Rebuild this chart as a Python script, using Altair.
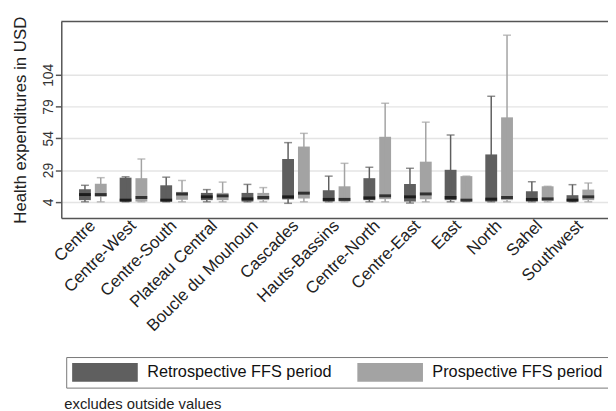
import altair as alt
import pandas as pd

FONT = "Liberation Sans"
DARK = "#5f5f5f"
LIGHT = "#a3a3a3"

regions = ["Centre", "Centre-West", "Centre-South", "Plateau Central", "Boucle du Mouhoun",
           "Cascades", "Hauts-Bassins", "Centre-North", "Centre-East", "East", "North",
           "Sahel", "Southwest"]
periods = ["Retrospective FFS period", "Prospective FFS period"]

# Retrospective FFS period (dark boxes)
retro_lo = [4, 4, 4, 4, 4, 2.8, 4, 4, 3, 4, 4, 4, 4]
retro_q1 = [5.3, 4.2, 4.2, 5.3, 4.2, 5.9, 4.2, 5.3, 4.2, 5.3, 4.2, 4.2, 4.2]
retro_med = [9.7, 5.3, 5.3, 7.9, 6.3, 7.9, 5.9, 7.1, 7.9, 7.4, 6.1, 5.9, 5.3]
retro_q3 = [13.9, 23.0, 17.0, 11.0, 11.0, 37.7, 13.1, 22.6, 18.0, 29.2, 41.3, 12.3, 9.2]
retro_hi = [17.0, 23.7, 23.4, 13.6, 17.7, 50.6, 24.2, 31.2, 30.4, 56.6, 87.1, 19.8, 17.5]

# Prospective FFS period (light boxes)
prosp_lo = [4, 4, 4, 4, 4, 4, 4, 4, 4, 4, 4, 4, 4]
prosp_q1 = [7.9, 4.2, 5.6, 5.3, 5.3, 6.6, 4.2, 6.1, 6.0, 4.2, 5.3, 4.6, 5.3]
prosp_med = [9.7, 7.4, 10.2, 8.7, 7.4, 10.8, 5.9, 8.7, 10.2, 5.3, 7.4, 6.3, 7.9]
prosp_q3 = [18.3, 22.6, 11.8, 11.0, 11.0, 47.5, 16.2, 55.2, 35.6, 24.2, 70.5, 16.2, 13.6]
prosp_hi = [23.0, 37.7, 20.8, 19.5, 15.2, 57.9, 34.3, 81.6, 66.7, 24.2, 135.2, 16.2, 18.8]

y_ticks = [4, 29, 54, 79, 104]
y_domain = [-8.67, 145.96]
note = "excludes outside values"
y_title = "Health expenditures in USD"

rows = []
for i, r in enumerate(regions):
    rows.append(dict(region=r, period=periods[0], lo=retro_lo[i], q1=retro_q1[i],
                     med=retro_med[i], q3=retro_q3[i], hi=retro_hi[i]))
    rows.append(dict(region=r, period=periods[1], lo=prosp_lo[i], q1=prosp_q1[i],
                     med=prosp_med[i], q3=prosp_q3[i], hi=prosp_hi[i]))
df = pd.DataFrame(rows)

x_enc = alt.X(
    "region:N", sort=regions,
    scale=alt.Scale(range=[0, 558], paddingInner=0, paddingOuter=0.277),
    axis=alt.Axis(title=None, labelAngle=315, labelAlign="right", labelBaseline="middle",
                  labelPadding=5, labelFontSize=17, labelFont=FONT, labelColor="#222",
                  ticks=False, domain=True, domainColor="#555", domainWidth=1.5,
                  grid=False, labelLimit=300, labelOverlap=False),
)
xoff = alt.XOffset("period:N", sort=periods,
                   scale=alt.Scale(domain=periods, paddingInner=0.25, paddingOuter=0.41))
y_scale = alt.Scale(domain=y_domain, nice=False, zero=False)
y_axis = alt.Axis(
    title=y_title, values=y_ticks, labelAngle=270, labelAlign="center",
    labelBaseline="alphabetic", labelPadding=3, labelFontSize=14, labelFont=FONT,
    labelColor="#333", tickSize=6, tickColor="#555", tickWidth=1.5,
    domainColor="#555", domainWidth=1.5, grid=True, gridColor="#e4e4e4", gridWidth=1.5,
    titleFont=FONT, titleFontSize=17, titleFontWeight="normal", titleColor="#222",
    titleAngle=270, titleX=-36, titleY=99.5, titleAlign="center", titleBaseline="alphabetic",
)
legend_def = alt.Legend(
    title=None, orient="none", legendX=5, legendY=340, direction="horizontal",
    symbolType="M-1,-1H6V1H-1Z", symbolSize=361, symbolStrokeWidth=0,
    labelFontSize=16.5, labelFont=FONT, labelColor="#111", labelOffset=57,
    labelLimit=400, columnPadding=25, padding=6, strokeColor="#777",
    fillColor="white", symbolOpacity=1,
)
color_enc = alt.Color("period:N", scale=alt.Scale(domain=periods, range=[DARK, LIGHT]),
                      legend=legend_def)

base = alt.Chart(df)

whisk = base.mark_rule(strokeWidth=1.5).encode(
    x=x_enc, xOffset=xoff,
    y=alt.Y("lo:Q", scale=y_scale, axis=y_axis), y2="hi:Q",
    color=color_enc,
)
cap_hi = base.mark_tick(size=8, thickness=1.5).encode(
    x=x_enc, xOffset=xoff, y=alt.Y("hi:Q", scale=y_scale, axis=y_axis), color=color_enc,
)
cap_lo = base.mark_tick(size=8, thickness=1.5).encode(
    x=x_enc, xOffset=xoff, y=alt.Y("lo:Q", scale=y_scale, axis=y_axis), color=color_enc,
)
box = base.mark_bar().encode(
    x=x_enc, xOffset=xoff,
    y=alt.Y("q1:Q", scale=y_scale, axis=y_axis), y2="q3:Q",
    color=color_enc,
)
median = base.mark_tick(size=12, thickness=3, color="black").encode(
    x=x_enc, xOffset=xoff, y=alt.Y("med:Q", scale=y_scale, axis=y_axis),
)

top_line = alt.Chart(pd.DataFrame({"k": [0]})).mark_rule(color="#555", strokeWidth=1.5).encode(
    x=alt.value(0), x2=alt.value(560), y=alt.value(0),
)
note_text = alt.Chart(pd.DataFrame({"t": [note]})).mark_text(
    align="left", baseline="alphabetic", fontSize=15, font=FONT, color="#222",
).encode(text="t:N", x=alt.value(3), y=alt.value(393))

chart = alt.layer(box, whisk, cap_hi, cap_lo, median, top_line, note_text).properties(
    width=554, height=199,
    padding={"left": 54, "top": 11, "right": 0, "bottom": 194},
    autosize=alt.AutoSizeParams(type="none"),
    background="white",
).configure_view(stroke=None)

chart.save("out.html", embed_options={"renderer": "svg", "actions": False})
